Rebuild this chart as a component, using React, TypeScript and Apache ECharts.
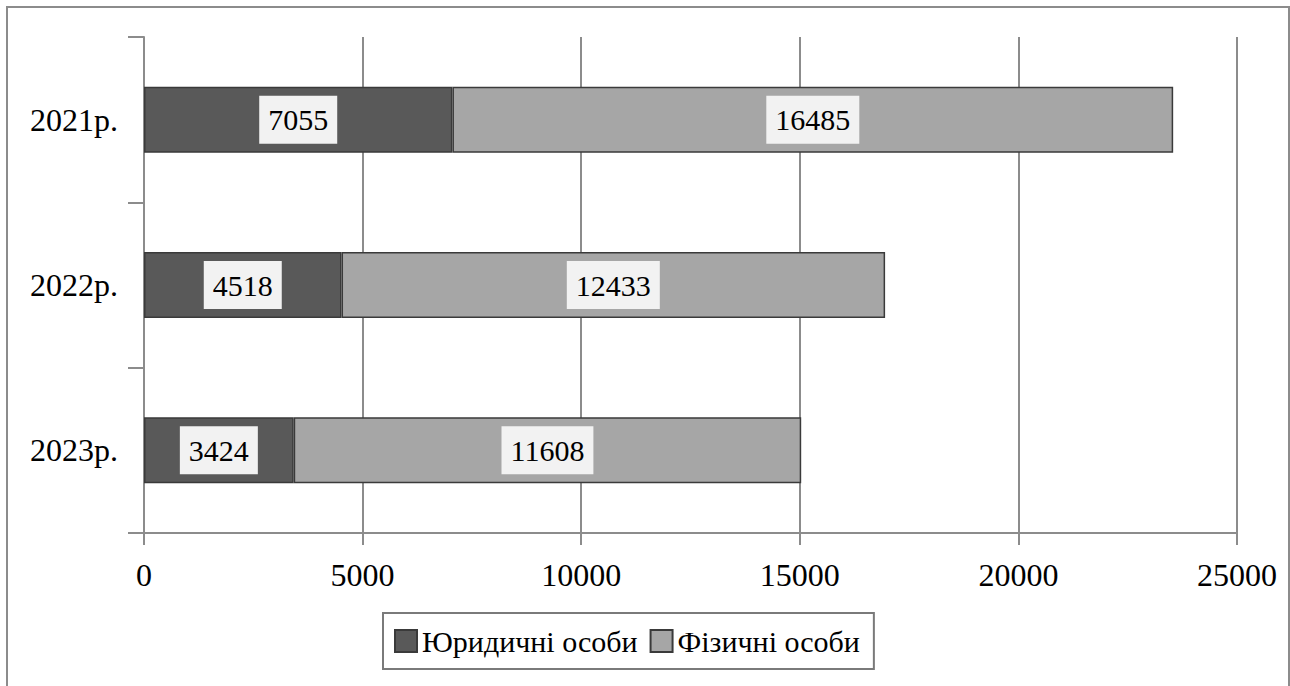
import React, { useEffect, useRef } from "react";
import * as echarts from "echarts";

const categories = ["2021р.", "2022р.", "2023р."];
const legalEntities = [7055, 4518, 3424];
const individuals = [16485, 12433, 11608];
const seriesNames = ["Юридичні особи", "Фізичні особи"];
const xTicks = { min: 0, max: 25000, interval: 5000 };

const FONT = '"Times New Roman", "Liberation Serif", "DejaVu Serif", serif';

export default function App() {
  const ref = useRef<HTMLDivElement>(null);
  useEffect(() => {
    if (!ref.current) return;
    const chart = echarts.init(ref.current, undefined, { renderer: "svg" });
    const labelStyle = {
      show: true,
      position: "inside",
      color: "#000",
      fontFamily: FONT,
      fontSize: 30,
      backgroundColor: "#f2f2f2",
      padding: [7, 9, 5, 9],
      lineHeight: 36,
    };
    chart.setOption({
      animation: false,
      textStyle: { fontFamily: FONT },
      graphic: [
        {
          type: "rect",
          shape: { x: 7, y: 7, width: 1282, height: 700 },
          style: { fill: "none", stroke: "#8c8c8c", lineWidth: 2 },
          silent: true,
        },
      ],
      grid: { left: 144, right: 53, top: 37, bottom: 153 },
      legend: {
        data: seriesNames,
        left: 383,
        top: 613,
        orient: "horizontal",
        itemWidth: 22,
        itemHeight: 22,
        itemGap: 12,
        padding: [13, 14, 13, 11],
        borderColor: "#7a7a7a",
        borderWidth: 2,
        icon: "rect",
        textStyle: { fontFamily: FONT, fontSize: 30, color: "#000" },
      },
      xAxis: {
        type: "value",
        min: xTicks.min,
        max: xTicks.max,
        interval: xTicks.interval,
        axisLine: { show: true, lineStyle: { color: "#8c8c8c", width: 2 } },
        axisTick: { show: true, length: 12, lineStyle: { color: "#8c8c8c", width: 2 } },
        splitLine: { show: true, lineStyle: { color: "#8c8c8c", width: 2 } },
        axisLabel: {
          fontFamily: FONT,
          fontSize: 32,
          color: "#000",
          margin: 26,
          formatter: (v: number) => String(v),
        },
      },
      yAxis: {
        type: "category",
        inverse: true,
        data: categories,
        axisLine: { show: true, lineStyle: { color: "#8c8c8c", width: 2 } },
        axisTick: { show: true, length: 16, lineStyle: { color: "#8c8c8c", width: 2 } },
        axisLabel: { fontFamily: FONT, fontSize: 32, color: "#000", margin: 26 },
      },
      series: [
        {
          name: seriesNames[0],
          type: "bar",
          stack: "total",
          barWidth: 66,
          data: legalEntities,
          itemStyle: { color: "#595959", borderColor: "#3a3a3a", borderWidth: 1.5 },
          label: labelStyle,
        },
        {
          name: seriesNames[1],
          type: "bar",
          stack: "total",
          barWidth: 66,
          data: individuals,
          itemStyle: { color: "#a6a6a6", borderColor: "#3a3a3a", borderWidth: 1.5 },
          label: labelStyle,
        },
      ],
    });
    return () => chart.dispose();
  }, []);
  return (
    <div
      ref={ref}
      style={{ position: "absolute", left: 0, top: 0, width: 1290, height: 686, background: "#fff" }}
    />
  );
}
